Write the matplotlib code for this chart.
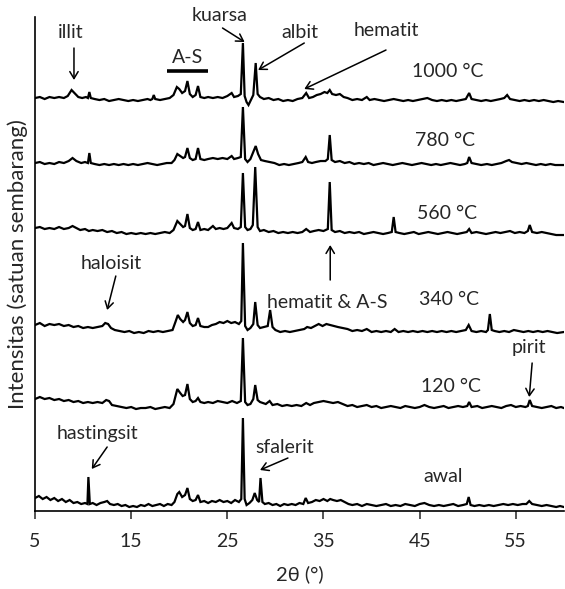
import matplotlib
matplotlib.use("Agg")
import matplotlib.pyplot as plt

plt.rcParams['font.family'] = ['Lato', 'DejaVu Sans']

# XRD traces, (2theta, intensity above the flat level)
awal = [(5.0,7),(5.4,9),(5.8,6),(6.2,8),(6.6,5),(7.0,7),(7.4,4),(7.8,6),(8.2,3),(8.6,5),(9.0,2),(9.4,3),
        (9.8,1),(10.2,2),(10.45,1),(10.55,28),(10.7,1),(11.0,2),(11.4,0),(11.8,2),(12.2,3),(12.5,4),(12.8,1),
        (13.2,0),(13.6,1),(14.0,-1),(14.4,0),(14.8,-2),(15.2,-1),(15.6,-2),(16.0,0),(16.4,-1),(16.8,1),(17.2,-1),
        (17.6,0),(18.0,1),(18.4,-1),(18.8,1),(19.2,0),(19.5,3),(19.8,11),(20.0,13),(20.3,8),(20.6,10),(20.85,17),
        (21.1,6),(21.4,4),(21.7,5),(21.95,10),(22.2,3),(22.6,4),(23.0,2),(23.4,4),(23.8,3),(24.2,5),(24.6,3),
        (25.0,4),(25.4,2),(25.8,5),(26.2,3),(26.45,6),(26.62,87),(26.8,6),(27.0,0),(27.3,2),(27.6,5),(27.85,12),
        (28.1,5),(28.3,3),(28.45,27),(28.65,3),(28.9,1),(29.3,2),(29.7,0),(30.1,1),(30.5,-1),(30.9,1),(31.3,0),
        (31.7,1),(32.1,0),(32.5,2),(32.9,1),(33.15,7),(33.4,2),(33.8,3),(34.2,5),(34.6,4),(35.0,6),(35.4,4),
        (35.7,6),(36.0,5),(36.4,4),(36.8,5),(37.2,3),(37.6,1),(38.0,0),(38.5,1),(39.0,-1),(39.5,1),(40.0,0),
        (40.5,-1),(41.0,0),(41.5,1),(42.0,-1),(42.5,0),(43.0,-1),(43.5,1),(44.0,0),(44.5,-1),(45.0,1),(45.5,2),
        (46.0,0),(46.5,-1),(47.0,0),(47.5,-1),(48.0,0),(48.5,1),(49.0,-1),(49.5,0),(49.9,1),(50.1,8),(50.3,0),
        (50.7,-1),(51.2,0),(51.7,-1),(52.2,0),(52.7,-1),(53.2,0),(53.7,1),(54.2,0),(54.7,1),(55.2,0),(55.7,1),
        (56.1,1),(56.4,4),(56.7,1),(57.2,0),(57.7,-1),(58.2,0),(58.7,-1),(59.2,-2),(59.6,-1),(60.0,-2)]

t120 = [(5.0,8),(5.5,10),(6.0,8),(6.5,9),(7.0,7),(7.5,8),(8.0,6),(8.5,7),(9.0,5),(9.5,6),(10.0,4),(10.5,5),
        (11.0,4),(11.5,5),(12.0,4),(12.4,7),(12.7,6),(13.0,2),(13.5,1),(14.0,0),(14.5,-1),(15.0,0),(15.5,-2),
        (16.0,-1),(16.5,-1),(17.0,0),(17.5,-2),(18.0,-1),(18.5,0),(19.0,-1),(19.4,3),(19.8,18),(20.1,14),
        (20.35,11),(20.6,12),(20.85,23),(21.1,8),(21.4,5),(21.7,6),(21.95,9),(22.2,5),(22.6,4),(23.0,5),(23.5,4),
        (24.0,6),(24.5,5),(25.0,4),(25.5,6),(26.0,4),(26.4,6),(26.62,69),(26.85,5),(27.1,2),(27.4,3),(27.7,8),
        (27.9,22),(28.15,7),(28.4,5),(28.7,4),(29.0,3),(29.4,6),(29.7,2),(30.2,3),(30.7,1),(31.2,2),(31.7,1),
        (32.2,2),(32.7,1),(33.2,4),(33.6,2),(34.0,4),(34.5,5),(35.0,6),(35.5,5),(36.0,4),(36.5,5),(37.0,3),
        (37.5,1),(38.0,2),(38.5,0),(39.0,1),(39.5,2),(40.0,0),(40.5,1),(41.0,-1),(41.5,0),(42.0,1),(42.5,0),
        (43.0,-1),(43.5,1),(44.0,0),(44.5,-1),(45.0,0),(45.5,2),(46.0,0),(46.5,-1),(47.0,0),(47.5,1),(48.0,-1),
        (48.5,0),(49.0,1),(49.5,0),(49.95,1),(50.15,5),(50.4,0),(51.0,1),(51.5,-1),(52.0,0),(52.5,1),(53.0,0),
        (53.5,-1),(54.0,1),(54.5,2),(55.0,0),(55.5,1),(56.0,0),(56.25,1),(56.45,7),(56.7,1),(57.2,0),(57.7,-1),
        (58.2,0),(58.7,1),(59.2,-1),(59.7,0),(60.0,-1)]

t340 = [(5.0,5),(5.5,7),(6.0,4),(6.5,6),(7.0,5),(7.5,6),(8.0,4),(8.5,5),(9.0,3),(9.5,4),(10.0,2),(10.5,3),
        (11.0,2),(11.5,3),(12.0,4),(12.3,7),(12.6,6),(12.9,2),(13.3,0),(13.8,-1),(14.3,-2),(14.8,-1),(15.3,-3),
        (15.8,-2),(16.3,-3),(16.8,-1),(17.3,-2),(17.8,-1),(18.3,-2),(18.8,-1),(19.3,0),(19.6,8),(19.85,15),
        (20.1,11),(20.4,8),(20.6,10),(20.85,18),(21.1,7),(21.4,4),(21.7,5),(21.95,12),(22.2,4),(22.6,3),(23.0,3),
        (23.4,5),(23.8,6),(24.2,8),(24.6,7),(25.0,9),(25.4,7),(25.8,8),(26.2,6),(26.45,9),(26.62,87),(26.85,4),
        (27.1,0),(27.4,2),(27.7,6),(27.9,28),(28.15,5),(28.4,2),(28.8,3),(29.2,4),(29.45,20),(29.7,3),(30.0,0),
        (30.5,-2),(31.0,-1),(31.5,-2),(32.0,-1),(32.5,0),(33.0,1),(33.3,3),(33.7,2),(34.1,4),(34.5,6),(34.9,4),
        (35.3,6),(35.7,5),(36.1,4),(36.5,3),(37.0,2),(37.5,1),(38.0,-1),(38.5,0),(39.0,-1),(39.5,1),(40.0,-2),
        (40.5,-1),(41.0,-2),(41.5,-1),(42.0,-2),(42.4,1),(42.8,-2),(43.3,-1),(43.8,-2),(44.3,-1),(44.8,-2),
        (45.3,-1),(45.8,-2),(46.3,-1),(46.8,-2),(47.3,-1),(47.8,-2),(48.3,-1),(48.8,-2),(49.3,-1),(49.8,0),
        (50.1,5),(50.4,-1),(50.9,-2),(51.4,-1),(51.9,-2),(52.1,0),(52.3,16),(52.5,0),(52.8,-1),(53.3,-2),
        (53.8,-1),(54.3,-2),(54.8,0),(55.3,-1),(55.8,-2),(56.3,-1),(56.8,-2),(57.3,-1),(57.8,-2),(58.3,-1),
        (58.8,-2),(59.3,-3),(60.0,-2)]

t560 = [(5.0,5),(5.5,6),(6.0,4),(6.5,5),(7.0,4),(7.5,6),(8.0,4),(8.5,5),(8.9,7),(9.3,5),(9.7,3),(10.2,4),
        (10.6,2),(11.0,3),(11.5,2),(12.0,3),(12.5,1),(13.0,2),(13.5,0),(14.0,1),(14.5,-1),(15.0,0),(15.5,-1),
        (16.0,0),(16.5,-1),(17.0,0),(17.5,-1),(18.0,0),(18.5,1),(19.0,0),(19.4,3),(19.8,12),(20.1,9),(20.4,6),
        (20.6,7),(20.85,19),(21.1,5),(21.4,3),(21.7,4),(21.95,11),(22.2,3),(22.6,4),(23.0,3),(23.5,7),(23.8,4),
        (24.2,5),(24.6,4),(25.0,5),(25.45,10),(25.7,5),(26.1,4),(26.4,6),(26.62,60),(26.85,6),(27.1,3),(27.4,4),
        (27.65,8),(27.9,66),(28.15,6),(28.4,2),(28.8,3),(29.3,1),(29.8,2),(30.3,0),(30.8,1),(31.3,0),(31.8,1),
        (32.3,0),(32.8,1),(33.2,4),(33.6,1),(34.0,2),(34.5,3),(35.0,2),(35.45,4),(35.65,51),(35.85,3),(36.2,1),
        (36.7,2),(37.2,0),(37.7,1),(38.2,0),(38.7,1),(39.2,-1),(39.7,0),(40.2,1),(40.7,0),(41.2,-1),(41.7,0),
        (42.1,1),(42.3,16),(42.5,1),(42.9,0),(43.4,-1),(43.9,0),(44.4,1),(44.9,-1),(45.4,0),(45.9,1),(46.4,0),
        (46.9,-1),(47.4,0),(47.9,1),(48.4,0),(48.9,-1),(49.4,0),(49.9,1),(50.15,4),(50.4,0),(50.9,1),(51.4,0),
        (51.9,-1),(52.4,0),(52.9,1),(53.4,0),(53.9,1),(54.4,2),(54.9,0),(55.4,1),(55.9,0),(56.25,2),(56.45,8),
        (56.7,1),(57.2,0),(57.7,1),(58.2,0),(58.7,-1),(59.2,-2),(60.0,-2)]

t780 = [(5.0,1),(5.5,2),(6.0,0),(6.5,1),(7.0,0),(7.5,2),(8.0,1),(8.5,3),(8.9,6),(9.3,3),(9.8,1),(10.2,2),
        (10.5,1),(10.65,11),(10.8,1),(11.2,0),(11.7,-1),(12.2,0),(12.7,-1),(13.2,0),(13.7,-1),(14.2,0),(14.7,-1),
        (15.2,0),(15.7,-1),(16.2,0),(16.7,1),(17.2,0),(17.7,-1),(18.2,0),(18.7,1),(19.2,1),(19.5,4),(19.8,10),
        (20.1,8),(20.4,6),(20.6,7),(20.85,16),(21.1,6),(21.4,4),(21.7,5),(21.95,16),(22.2,5),(22.6,4),(23.0,5),
        (23.5,6),(24.0,5),(24.5,6),(25.0,5),(25.45,8),(25.7,5),(26.1,6),(26.4,7),(26.62,57),(26.85,5),(27.1,2),
        (27.4,5),(27.7,12),(27.95,18),(28.2,10),(28.5,4),(28.9,3),(29.4,2),(29.9,1),(30.4,-1),(30.9,0),(31.4,-1),
        (31.9,0),(32.4,1),(32.8,2),(33.15,7),(33.4,2),(33.8,1),(34.2,2),(34.7,3),(35.2,3),(35.45,5),(35.65,29),
        (35.85,4),(36.2,2),(36.7,3),(37.2,1),(37.7,2),(38.2,0),(38.7,1),(39.2,0),(39.7,1),(40.2,-1),(40.7,0),
        (41.2,1),(41.7,0),(42.2,-1),(42.7,0),(43.2,1),(43.7,0),(44.2,-1),(44.7,0),(45.2,1),(45.7,0),(46.2,-1),
        (46.7,0),(47.2,-1),(47.7,0),(48.2,1),(48.7,0),(49.2,-1),(49.7,0),(49.95,1),(50.15,7),(50.4,1),(50.9,0),
        (51.4,-1),(52.0,0),(52.5,-1),(53.0,0),(53.5,1),(54.0,3),(54.3,4),(54.6,2),(55.1,1),(55.6,0),(56.1,1),
        (56.6,0),(57.1,-1),(57.6,0),(58.1,-1),(58.6,0),(59.1,-1),(60.0,-1)]

t1000 = [(5.0,2),(5.5,3),(6.0,1),(6.5,3),(7.0,2),(7.5,3),(8.0,2),(8.4,4),(8.8,10),(9.1,7),(9.5,3),(9.9,2),
         (10.3,3),(10.5,2),(10.65,8),(10.8,2),(11.2,1),(11.7,0),(12.2,1),(12.7,-1),(13.2,0),(13.7,1),(14.2,0),
         (14.7,-1),(15.2,0),(15.7,-1),(16.2,0),(16.7,1),(17.0,0),(17.2,1),(17.35,5),(17.5,1),(18.0,0),(18.5,1),
         (19.0,2),(19.4,5),(19.75,13),(20.0,11),(20.3,7),(20.6,9),(20.85,19),(21.1,6),(21.4,3),(21.7,5),
         (21.95,14),(22.2,3),(22.6,2),(23.0,3),(23.5,2),(24.0,3),(24.5,2),(25.0,4),(25.45,7),(25.7,3),(26.1,4),
         (26.4,6),(26.62,57),(26.8,4),(27.0,-2),(27.2,-5),(27.4,-1),(27.7,5),(27.95,37),(28.15,6),(28.4,3),
         (28.8,1),(29.3,2),(29.8,0),(30.3,1),(30.8,-1),(31.3,0),(31.8,-1),(32.3,1),(32.8,2),(33.2,7),(33.5,2),
         (33.9,3),(34.3,5),(34.7,6),(35.1,8),(35.4,7),(35.65,10),(35.9,6),(36.3,5),(36.7,6),(37.1,3),(37.5,2),
         (38.0,0),(38.5,1),(39.0,0),(39.5,3),(39.8,0),(40.3,1),(40.8,0),(41.3,-1),(41.8,0),(42.3,1),(42.8,0),
         (43.3,-1),(43.8,0),(44.3,-1),(44.8,0),(45.3,1),(45.8,2),(46.3,0),(46.8,-1),(47.3,0),(47.8,-1),(48.3,0),
         (48.8,-1),(49.3,0),(49.8,1),(50.15,7),(50.4,1),(50.9,0),(51.4,-1),(51.9,0),(52.4,-1),(52.9,0),
         (53.4,1),(53.8,2),(54.1,5),(54.4,1),(54.9,0),(55.4,-1),(55.9,0),(56.4,-1),(56.9,0),(57.4,-1),
         (57.9,0),(58.4,-1),(58.9,-2),(59.4,-1),(60.0,-2)]

traces = [awal, t120, t340, t560, t780, t1000]
offsets = [6, 104, 181, 278, 347, 411]
temp_labels = ["awal", "120 °C", "340 °C", "560 °C", "780 °C", "1000 °C"]
temp_label_pos = [(47.4, 35), (48.3, 125), (48.1, 212), (47.8, 298), (47.6, 371), (47.9, 440)]

xticks = [5, 15, 25, 35, 45, 55]

fig = plt.figure(figsize=(5.65, 5.89), dpi=100)
ax = fig.add_axes([0.062, 0.1324, 0.936, 0.8387])

for tr, off in zip(traces, offsets):
    xs = [p[0] for p in tr]
    ys = [p[1] + off for p in tr]
    ax.plot(xs, ys, color='black', lw=1.6, solid_joinstyle='miter')

ax.set_xlim(5, 60)
ax.set_ylim(0, 494)
ax.set_xticks(xticks)
ax.set_yticks([])
ax.tick_params(axis='x', direction='out', length=6, width=1.1, pad=10, labelsize=14, colors='#262626')
for s in ['top', 'right']:
    ax.spines[s].set_visible(False)
for s in ['left', 'bottom']:
    ax.spines[s].set_linewidth(1.2)
ax.set_xlabel("2θ (°)", fontsize=14.5, color='#262626', labelpad=11)
ax.set_ylabel("Intensitas (satuan sembarang)", fontsize=16, color='#262626', labelpad=5)

txt = dict(fontsize=14, color='#262626', ha='center', va='center')
for lab, (x, y) in zip(temp_labels, temp_label_pos):
    ax.text(x, y, lab, **txt)

arr = dict(arrowstyle='->,head_length=0.5,head_width=0.3', color='black', lw=1.1, shrinkA=0, shrinkB=0)
# (label, text position, arrow tail, arrow head)
notes = [
    ("illit", (8.75, 479), (9.05, 463), (9.05, 431)),
    ("kuarsa", (24.2, 496), (24.5, 483), (26.8, 469)),
    ("albit", (32.5, 479), (33.0, 468), (28.2, 441)),
    ("hematit", (41.5, 481), (41.5, 461), (33.0, 422)),
    ("haloisit", (12.9, 248), (13.4, 235), (12.5, 201)),
    ("hematit & A-S", (35.4, 209), None, None),
    ("pirit", (56.4, 164), (56.7, 148), (56.4, 114)),
    ("hastingsit", (11.5, 78), (12.5, 64), (10.9, 42)),
    ("sfalerit", (31.0, 64), (31.3, 53), (28.4, 41)),
]
for lab, tp, tail, head in notes:
    ax.text(tp[0], tp[1], lab, **txt)
    if tail is not None:
        ax.annotate("", xy=head, xytext=tail, arrowprops=arr)

# upward arrow under the 560 °C hematite peak
ax.annotate("", xy=(35.7, 266), xytext=(35.7, 231), arrowprops=arr)
# A-S bar
ax.text(20.9, 454, "A-S", **txt)
ax.plot([18.7, 23.0], [440, 440], color='black', lw=2.6, solid_capstyle='butt')

fig.savefig("out.png", dpi=100)
